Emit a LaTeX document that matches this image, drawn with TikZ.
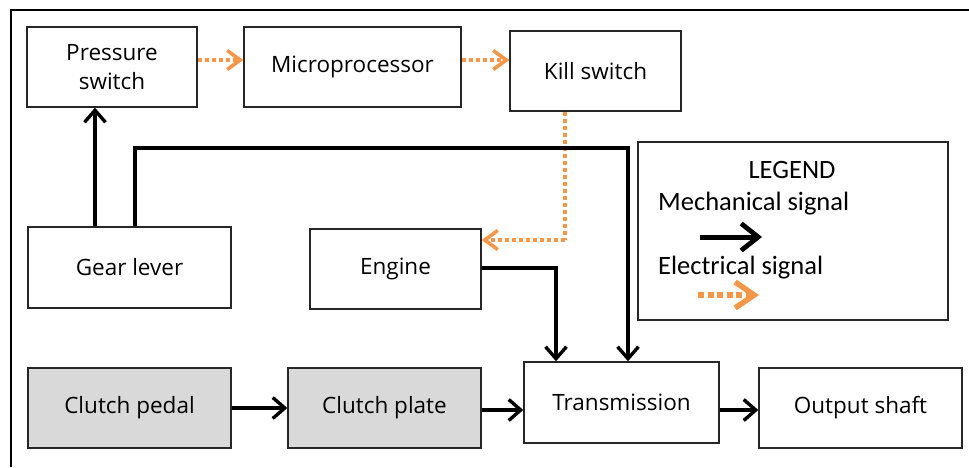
\documentclass[tikz,border=0pt]{standalone}
\usepackage{fontspec}
\setmainfont{Open Sans}
\newfontfamily\legendfont{Carlito}
\usetikzlibrary{arrows.meta}
\definecolor{elec}{RGB}{247,150,70}
\definecolor{boxgray}{RGB}{217,217,217}
\begin{document}
\begin{tikzpicture}[x=1pt,y=-1pt,
  blk/.style={draw=black!85,line width=1.4pt,rectangle,inner sep=0pt,align=center,font=\fontsize{22.5}{29}\selectfont},
  shaded/.style={blk,fill=boxgray},
  mech/.style={draw=black,line width=3.6pt,-{Straight Barb[length=12pt,width=21pt,line width=3.4pt]}},
  elecarr/.style={draw=elec,line width=3.8pt,dash pattern=on 4pt off 3pt,-{Straight Barb[length=13pt,width=19pt,line width=3.6pt]}},
  elecline/.style={draw=elec,line width=3.8pt,dash pattern=on 4pt off 3pt},
  legmech/.style={draw=black,line width=5pt,-{Straight Barb[length=17pt,width=27pt,line width=4.8pt]}},
  legelec/.style={draw=elec,line width=6pt,dash pattern=on 6pt off 3.5pt,-{Straight Barb[length=19pt,width=26pt,line width=5.5pt]}},
  legtxt/.style={font=\legendfont\fontsize{26.5}{30}\selectfont,inner sep=0pt,anchor=base west}]
\useasboundingbox (0,0) rectangle (969,467);
% outer frame
\draw[line width=1.8pt] (11,467) -- (11,10) -- (969,10);
% boxes
\node[blk,minimum width=170pt,minimum height=80pt] (pressure) at (112,67) {Pressure\\switch};
\node[blk,minimum width=217pt,minimum height=80pt] (micro) at (352.5,67) {Microprocessor};
\node[blk,minimum width=171pt,minimum height=80pt] (kill) at (595.5,71) {Kill switch};
\node[blk,minimum width=203pt,minimum height=81pt] (gear) at (129.5,267.5) {Gear lever};
\node[blk,minimum width=171pt,minimum height=80pt] (engine) at (395.5,269) {Engine};
\node[shaded,minimum width=203pt,minimum height=80pt] (pedal) at (129.5,408) {Clutch pedal};
\node[shaded,minimum width=193pt,minimum height=80pt] (plate) at (384.5,408) {Clutch plate};
\node[blk,minimum width=195pt,minimum height=81pt] (trans) at (621.5,402.5) {Transmission};
\node[blk,minimum width=203pt,minimum height=80pt] (output) at (860.5,408) {Output shaft};
% legend
\node[draw=black!85,line width=1.4pt,minimum width=310pt,minimum height=178pt,inner sep=0pt] (legend) at (793,231) {};
\node[legtxt,anchor=base] (lgtitle) at (792,178) {LEGEND};
\node[legtxt] (lgmech) at (658,210) {Mechanical signal};
\node[legtxt] (lgelec) at (658,274) {Electrical signal};
\coordinate (lm1) at (700,237);
\coordinate (lm2) at (762,237);
\coordinate (le1) at (698,295);
\coordinate (le2) at (759,295);
\draw[legmech] (lm1) -- (lm2);
\draw[legelec] (le1) -- (le2);
% helper coordinates
\coordinate (xa) at (95,0);
\coordinate (xb) at (135,0);
\coordinate (xc) at (628,148);
\coordinate (xk) at (565,240);
\coordinate (xe) at (556,0);
% electrical connectors
\draw[elecarr] (pressure.east |- 0,60) -- (micro.west |- 0,60);
\draw[elecarr] (micro.east |- 0,60) -- (kill.west |- 0,60);
\draw[elecline] (kill.south -| xk) -- (xk);
\draw[elecarr] (xk) -- (engine.east |- xk);
% mechanical connectors
\draw[mech] (gear.north -| xa) -- (pressure.south -| xa);
\draw[mech] (gear.north -| xb) -- (xb |- xc) -- (xc) -- (trans.north -| xc);
\draw[mech] (engine.east |- 0,268) -- (xe |- 0,268) -- (trans.north -| xe);
\draw[mech] (pedal.east) -- (plate.west);
\draw[mech] (plate.east |- 0,410) -- (trans.west |- 0,410);
\draw[mech] (trans.east |- 0,410) -- (output.west |- 0,410);
\end{tikzpicture}
\end{document}
